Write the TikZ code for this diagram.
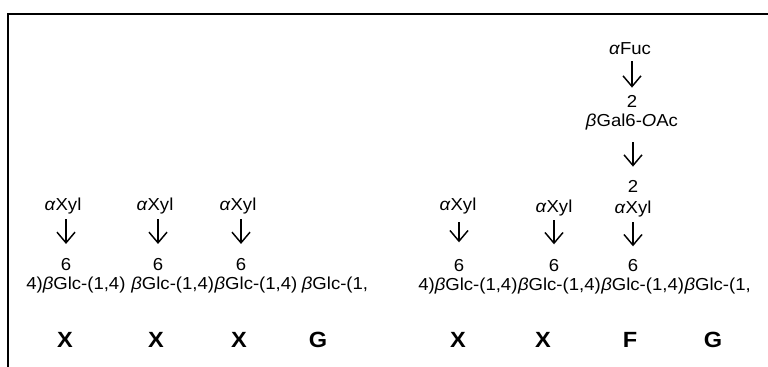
\documentclass[tikz,border=0pt]{standalone}
\usepackage{fontspec}
\setmainfont{Liberation Sans}[FakeStretch=1.07]
\usetikzlibrary{arrows.meta}
\newcommand{\gk}[1]{\textit{#1}}
\begin{document}
\begin{tikzpicture}[x=0.75pt,y=-0.75pt,
  every node/.style={inner sep=0pt},
  lbl/.style={anchor=base},
  res/.style={anchor=base west},
  tag/.style={anchor=base,font=\fontsize{16.5}{19}\selectfont\bfseries},
  arr/.style={line width=1.1pt,-{Straight Barb[length=8pt,width=13.5pt,line width=1.1pt]}}]
\fontsize{13}{15}\selectfont
\useasboundingbox (0,0) rectangle (768,367);
% open frame: top and left edges
\draw[line width=1.5pt] (8,367) -- (8,14) -- (768,14);

% ---- XXXG ----
\node[res] (rL1) at (26,290) {4)\gk{β}Glc-(1,4)};
\node[res] (rL2) at ([xshift=4pt]rL1.base east) {\gk{β}Glc-(1,4)};
\node[res] (rL3) at (rL2.base east) {\gk{β}Glc-(1,4)};
\node[res] (rL4) at ([xshift=3pt]rL3.base east) {\gk{β}Glc-(1,};

\node[lbl] (sL1) at (66,271) {6};
\node[lbl] (sL2) at (158,271) {6};
\node[lbl] (sL3) at (241,271) {6};

\node[lbl] (xL1) at (63,211) {\gk{α}Xyl};
\node[lbl] (xL2) at (155,211) {\gk{α}Xyl};
\node[lbl] (xL3) at (238,211) {\gk{α}Xyl};

\foreach \i in {1,2,3}
  \draw[arr,shorten <=3.4pt,shorten >=11pt] (sL\i.north |- xL\i.south) -- (sL\i.north);

\node[tag] (tL1) at (65,347) {X};
\node[tag] (tL2) at (156,347) {X};
\node[tag] (tL3) at (239,347) {X};
\node[tag] (tL4) at (318,347) {G};

% ---- XXFG ----
\node[res] (rR1) at (418,291) {4)\gk{β}Glc-(1,4)};
\node[res] (rR2) at (rR1.base east) {\gk{β}Glc-(1,4)};
\node[res] (rR3) at (rR2.base east) {\gk{β}Glc-(1,4)};
\node[res] (rR4) at (rR3.base east) {\gk{β}Glc-(1,};

\node[lbl] (sR1) at (459,272) {6};
\node[lbl] (sR2) at (554,272) {6};
\node[lbl] (sR3) at (633,272) {6};

\node[lbl] (xR1) at (458,211) {\gk{α}Xyl};
\node[lbl] (xR2) at (554,213) {\gk{α}Xyl};
\node[lbl] (xR3) at (633,214) {\gk{α}Xyl};

\draw[arr,shorten <=5.6pt,shorten >=13pt] (sR1.north |- xR1.south) -- (sR1.north);
\draw[arr,shorten <=2.6pt,shorten >=11.5pt] (sR2.north |- xR2.south) -- (sR2.north);
\draw[arr,shorten <=3.4pt,shorten >=10pt] (sR3.north |- xR3.south) -- (sR3.north);

% fucosylated side chain
\node[lbl] (twoX) at (633,193) {2};
\node[lbl] (gal) at (632,127) {\gk{β}Gal6-\gk{O}Ac};
\node[lbl] (twoG) at (632,108) {2};
\node[lbl] (fuc) at (630,55) {\gk{α}Fuc};

\draw[arr,shorten <=4.5pt,shorten >=6pt] (twoG.north |- fuc.south) -- (twoG.north);
\draw[arr,shorten <=8.6pt,shorten >=10.5pt] (twoX.north |- gal.south) -- (twoX.north);

\node[tag] (tR1) at (458,347) {X};
\node[tag] (tR2) at (543,347) {X};
\node[tag] (tR3) at (630,347) {F};
\node[tag] (tR4) at (713,347) {G};
\end{tikzpicture}
\end{document}
